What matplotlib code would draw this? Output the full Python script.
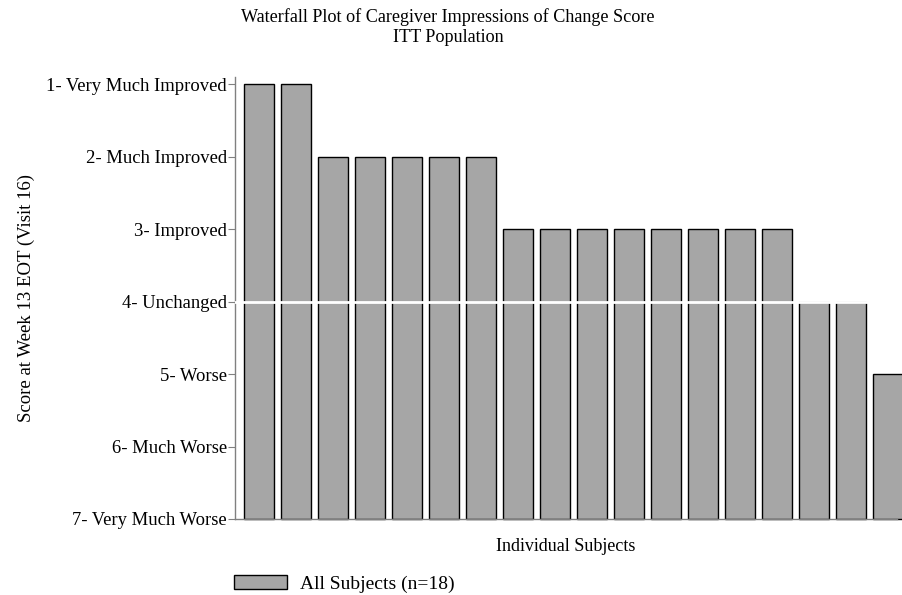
import matplotlib
matplotlib.use("Agg")
import matplotlib.pyplot as plt
from matplotlib.patches import Patch

plt.rcParams['font.family'] = ['Liberation Serif', 'DejaVu Serif']

scores = [1, 1, 2, 2, 2, 2, 2, 3, 3, 3, 3, 3, 3, 3, 3, 4, 4, 5]
tick_values = [1, 2, 3, 4, 5, 6, 7]
tick_labels = ["1- Very Much Improved", "2- Much Improved", "3- Improved",
               "4- Unchanged", "5- Worse", "6- Much Worse", "7- Very Much Worse"]
title_lines = ["Waterfall Plot of Caregiver Impressions of Change Score", "ITT Population"]
legend_label = "All Subjects (n=18)"

fig = plt.figure(figsize=(9.02, 5.95), dpi=100)
ax = fig.add_axes([235/902, 1-519/595, (897-235)/902, (519-77)/595])

x = list(range(len(scores)))
base = 7
ax.bar(x, [s - base for s in scores], bottom=base, width=0.81,
       color="#a6a6a6", edgecolor="black", linewidth=1.0, clip_on=False, zorder=2)
ax.axhline(4, color="white", linewidth=2, zorder=3)

ax.set_xlim(-0.65, 17.24)
ax.set_ylim(7, 0.9)
ax.set_yticks(tick_values)
ax.set_yticklabels(tick_labels, fontsize=13.4)
ax.set_xticks([])
for s in ["top", "right"]:
    ax.spines[s].set_visible(False)
for s in ["left", "bottom"]:
    ax.spines[s].set_color("#808080")
    ax.spines[s].set_linewidth(1.0)
ax.tick_params(axis="y", length=5, color="#808080", pad=1)

ax.set_ylabel("Score at Week 13 EOT (Visit 16)", fontsize=13.5, labelpad=8)
ax.set_xlabel("Individual Subjects", fontsize=13, labelpad=14)

fig.text(448/902, 1-17/595, title_lines[0], ha="center", va="center", fontsize=13.1)
fig.text(448/902, 1-38/595, title_lines[1], ha="center", va="center", fontsize=13.1)

handle = Patch(facecolor="#a6a6a6", edgecolor="black", linewidth=1.0)
fig.legend([handle], [legend_label], loc="center left",
           bbox_to_anchor=(220/902, 1-584/595), frameon=False, fontsize=14,
           handlelength=2.75, handleheight=0.7, handletextpad=0.65,
           borderpad=0.2)

fig.savefig("out.png", dpi=100, facecolor="white")
